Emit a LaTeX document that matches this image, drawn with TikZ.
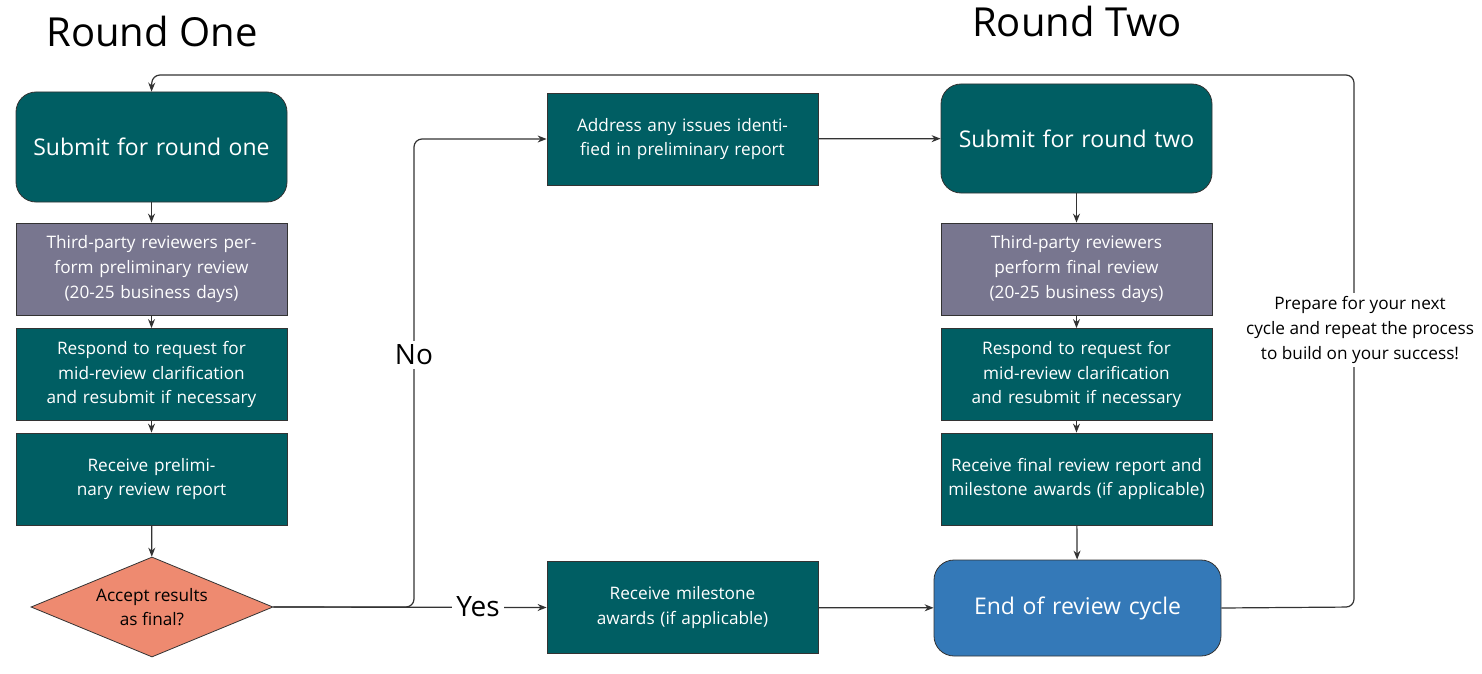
\documentclass[tikz,border=0pt]{standalone}
\usepackage{fontspec}
\setmainfont{Open Sans}
\usetikzlibrary{shapes.geometric,arrows.meta}
\definecolor{teal1}{HTML}{005E63}
\definecolor{grayp}{HTML}{78768F}
\definecolor{salmon}{HTML}{EE8A70}
\definecolor{blu}{HTML}{3479B8}
\definecolor{ln}{HTML}{333333}
\begin{document}
\begin{tikzpicture}[x=0.5pt,y=-0.5pt,
 box/.style={draw=black!80,line width=0.4pt,fill=teal1,text=white,minimum width=135.5pt,minimum height=46pt,align=center,inner sep=2pt,font=\fontsize{8.6}{12.4}\selectfont,text width=130pt},
 rbox/.style={box,rounded corners=10pt,font=\fontsize{11.5}{14}\selectfont},
 gbox/.style={box,fill=grayp},
 arr/.style={draw=ln,line width=0.6pt,-{Stealth[length=4.5pt,width=3.5pt]}},
 lbl/.style={fill=white,inner sep=2pt}]
\useasboundingbox (0,0) rectangle (1482,674);
\node[font=\fontsize{20}{24}\selectfont] (t1) at (152,32) {Round One};
\node[font=\fontsize{20}{24}\selectfont] (t2) at (1077,22) {Round Two};
\node[rbox,minimum height=55pt] (s1) at (151.5,147) {Submit for round one};
\node[gbox] (p1) at (151.5,269) {Third-party reviewers perform preliminary review (20-25 business days)};
\node[box] (r1) at (151.5,374.5) {Respond to request for mid-review clarification and resubmit if necessary};
\node[box] (c1) at (151.5,479) {Receive preliminary review report};
\node[diamond,aspect=2.42,draw=black!80,line width=0.4pt,fill=salmon,minimum width=121pt,minimum height=50pt,inner sep=0pt,align=center,font=\fontsize{8.6}{12.4}\selectfont] (d) at (152,607) {Accept results\\as final?};
\node[box] (a) at (682.5,139) {Address any issues identified in preliminary report};
\node[box] (m) at (682.5,607.5) {Receive milestone awards (if applicable)};
\node[rbox,minimum height=54.5pt] (s2) at (1076.5,138.5) {Submit for round two};
\node[gbox] (p2) at (1076.5,269) {Third-party reviewers perform final review (20-25 business days)};
\node[box] (r2) at (1076.5,374.5) {Respond to request for mid-review clarification and resubmit if necessary};
\node[box] (c2) at (1076.5,479) {Receive final review report and milestone awards (if applicable)};
\node[rbox,fill=blu,minimum width=143.5pt,text width=138pt,minimum height=48pt] (e) at (1077.5,608) {End of review cycle};
\draw[arr] (s1)--(p1); \draw[arr] (p1)--(r1); \draw[arr] (r1)--(c1); \draw[arr] (c1)--(d);
\draw[arr] (s2)--(p2); \draw[arr] (p2)--(r2); \draw[arr] (r2)--(c2); \draw[arr] (c2)--(e);
\coordinate (k1) at (414,607);
\draw[arr,rounded corners=4pt] (d.east)--(k1)--(414,139)--(a.west);
\node[lbl,font=\fontsize{14}{16}\selectfont] (no) at (414,355) {No};
\draw[arr] (d.east)--(m.west);
\node[lbl,font=\fontsize{14}{16}\selectfont] (yes) at (478,607) {Yes};
\draw[arr] (a)--(s2);
\draw[arr] (m)--(e);
\coordinate (k2) at (1354,607);
\draw[arr,rounded corners=4pt] (e.east)--(k2)--(1354,75)--(152,75)--(s1.north);
\node[lbl,align=center,font=\fontsize{8.6}{12.4}\selectfont] (prep) at (1360,330) {Prepare for your next\\cycle and repeat the process\\to build on your success!};
\end{tikzpicture}
\end{document}
